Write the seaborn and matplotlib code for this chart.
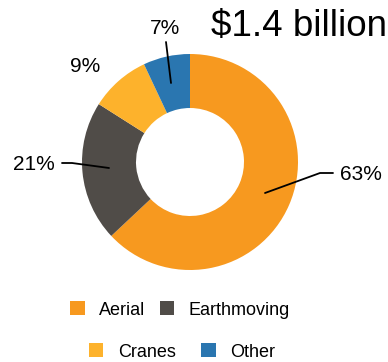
import matplotlib
matplotlib.use("Agg")
import matplotlib.pyplot as plt
import seaborn as sns
from matplotlib.patches import Patch

sns.set_style("white")
plt.rcParams['font.family'] = ['Liberation Sans', 'DejaVu Sans']
plt.rcParams['text.color'] = 'black'

categories = ["Aerial", "Earthmoving", "Cranes", "Other"]
shares = [63, 21, 9, 7]
labels = ["63%", "21%", "9%", "7%"]
colors = ["#F7991F", "#504C48", "#FDB22C", "#2A76B0"]
title = "$1.4 billion"

W, H = 388, 362
fig = plt.figure(figsize=(W / 100, H / 100), dpi=100)
ax = fig.add_axes([0, 0, 1, 1])
cx, cy, R = 190, 200, 108
ax.pie(shares, colors=colors, startangle=90, counterclock=False,
       center=(cx, cy), radius=R,
       wedgeprops=dict(width=R * 0.5, edgecolor="none", linewidth=0))
ax.set_xlim(0, W)
ax.set_ylim(0, H)
ax.set_aspect("equal")
ax.axis("off")

def Y(y):
    return H - y

fs = 15
# leader lines
ax.plot([265, 320, 333], [Y(193), Y(173), Y(173)], color="black", lw=1.3)
ax.plot([62, 72, 109], [Y(163), Y(163), Y(168)], color="black", lw=1.3)
ax.plot([166, 171], [Y(42), Y(83)], color="black", lw=1.3)

ax.text(340, Y(175), labels[0], fontsize=fs, ha="left", va="center", color="black")
ax.text(55, Y(165), labels[1], fontsize=fs, ha="right", va="center", color="black")
ax.text(85, Y(67), labels[2], fontsize=fs, ha="center", va="center", color="black")
ax.text(165, Y(28), labels[3], fontsize=fs, ha="center", va="center", color="black")

ax.text(W - 1, Y(26), title, fontsize=26.5, ha="right", va="center", color="black")

handles = [Patch(facecolor=c, edgecolor="none") for c in colors]
leg1 = fig.legend(handles[:2], categories[:2], ncol=2, loc="center",
                  bbox_to_anchor=(180 / W, 1 - 310 / H), frameon=False,
                  fontsize=13, handlelength=0.8, handleheight=0.8,
                  handletextpad=0.8, columnspacing=0.8, labelcolor="black")
leg2 = fig.legend(handles[2:], categories[2:], ncol=2, loc="center",
                  bbox_to_anchor=(182 / W, 1 - 352 / H), frameon=False,
                  fontsize=13, handlelength=0.8, handleheight=0.8,
                  handletextpad=0.8, columnspacing=1.4, labelcolor="black")

fig.savefig("out.png", dpi=100)
